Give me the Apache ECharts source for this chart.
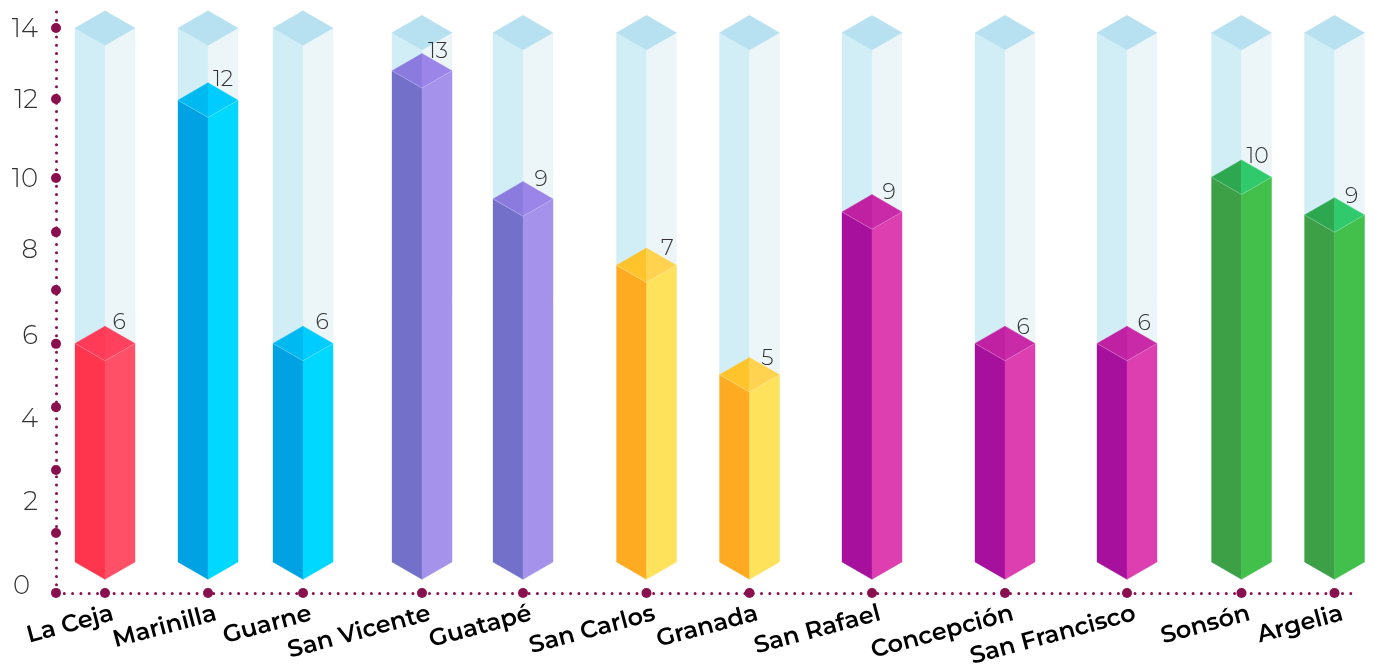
<!DOCTYPE html>
<html><head><meta charset="utf-8">
<style>html,body{margin:0;padding:0;background:#fff}#c{width:1374px;height:670px}</style>
<script src="https://cdn.jsdelivr.net/npm/echarts@6/dist/echarts.min.js"></script>
</head><body><div id="c"></div>
<script>
const categories = ['La Ceja','Marinilla','Guarne','San Vicente','Guatapé','San Carlos','Granada','San Rafael','Concepción','San Francisco','Sonsón','Argelia'];
const values = [6,12,6,13,9,7,5,9,6,6,10,9];
const barHeights = [5.73,12.11,5.73,12.88,9.52,7.78,4.91,9.18,5.73,5.73,10.09,9.1];
const trackHeights = [14,14,14,13.88,13.88,13.88,13.88,13.88,13.88,13.88,13.88,13.88];
const xSlots = [49,152,247,366,467,590.5,693.5,816,949,1071,1185.5,1278.5];
const paletteIndex = [0,1,1,2,2,3,3,4,4,4,5,5];
const yTickLabels = ['0','2','4','6','8','10','12','14'];
const yTickPlaces = [-0.63,1.57,3.75,5.92,8.18,10.04,12.11,13.97];
const yDots = [-0.81,0.76,2.41,4.06,5.72,7.13,8.65,10.07,12.14,14];
const labelDx = [14,15,19,16,18,21,18,17,18,17,16,17];
const labelDy = [-21,-21,-21,-19,-19,-17,-16,-19,-16,-20,-21,-18];

const palette = [
  {l:'#ff344d',r:'#ff5068',tl:'#ff3b58',tr:'#ff415e'},
  {l:'#00a2e4',r:'#00d8ff',tl:'#00b9f1',tr:'#00ccff'},
  {l:'#7370c9',r:'#a593eb',tl:'#8b7bdf',tr:'#9b85e8'},
  {l:'#ffab21',r:'#ffe25c',tl:'#ffc42b',tr:'#ffd34f'},
  {l:'#a6109d',r:'#dd3eb0',tl:'#c021a2',tr:'#c92aa8'},
  {l:'#3da047',r:'#43c04b',tl:'#2da850',tr:'#30c96b'}
];
const track = {l:'#d1edf6',r:'#ecf6f9',t:'#b7e1f1'};
const maroon = '#8a0f4f';
const X_MIN = 0, X_MAX = 1296, Y_MIN = -0.813, Y_MAX = 14.5;
const labelFont = 'Montserrat, Inter, "Open Sans", sans-serif';

function poly(points, fill){
  return {type:'polygon', shape:{points}, style:{fill, stroke:fill, lineWidth:0.4}, silent:true};
}
function renderBar(params, api){
  const i = params.dataIndex;
  const slot = api.value(0), h = api.value(1), tr = api.value(2), label = api.value(3), c = palette[api.value(4)];
  const hw = api.size([60,0])[0]/2, dy = hw*0.577;
  const cx = api.coord([slot,0])[0];
  const baseY = api.coord([slot,0])[1];
  const topY = api.coord([slot,h])[1];
  const trackY = api.coord([slot,tr])[1];
  const L = cx-hw, R = cx+hw;
  const kids = [
    poly([[L,trackY],[cx,trackY+dy],[cx,baseY+dy],[L,baseY]], track.l),
    poly([[cx,trackY+dy],[R,trackY],[R,baseY],[cx,baseY+dy]], track.r),
    poly([[L,trackY],[cx,trackY-dy],[R,trackY],[cx,trackY+dy]], track.t),
    poly([[L,topY],[cx,topY+dy],[cx,baseY+dy],[L,baseY]], c.l),
    poly([[cx,topY+dy],[R,topY],[R,baseY],[cx,baseY+dy]], c.r),
    poly([[L,topY],[cx,topY-dy],[cx,topY+dy]], c.tl),
    poly([[cx,topY-dy],[R,topY],[cx,topY+dy]], c.tr),
    {type:'polyline', shape:{points:[[L,topY],[cx,topY+dy],[R,topY]]},
     style:{fill:null, stroke:'rgba(255,255,255,0.25)', lineWidth:1}, silent:true},
    {type:'line', shape:{x1:L-0.5,y1:topY,x2:L-0.5,y2:baseY}, style:{stroke:'rgba(255,255,255,0.3)',lineWidth:1}, silent:true},
    {type:'text', x:cx+labelDx[i], y:topY+labelDy[i], silent:true,
     style:{text:String(label), fill:'#333', font:'300 22px '+labelFont, textAlign:'center', textVerticalAlign:'middle'}}
  ];
  return {type:'group', children:kids};
}

const chart = echarts.init(document.getElementById('c'), null, {renderer:'canvas'});
const dotLine = {color:maroon, width:3, type:[0,8.3], cap:'round'};
const dotStyle = {color:maroon, opacity:1};
chart.setOption({
  animation:false,
  grid:{left:56,right:22,top:9,bottom:77,containLabel:false},
  xAxis:[
    {type:'value',min:X_MIN,max:X_MAX,splitLine:{show:false},axisTick:{show:false},axisLabel:{show:false},
     axisLine:{show:true,onZero:false,lineStyle:dotLine}},
    {type:'value',position:'bottom',min:X_MIN-8,max:X_MAX-8,splitLine:{show:false},axisTick:{show:false},axisLine:{show:false},
     axisLabel:{show:true,customValues:xSlots,rotate:15,margin:20,hideOverlap:false,
       color:'#000',fontFamily:labelFont,fontSize:24,fontWeight:600,
       formatter:v=>categories[xSlots.indexOf(v)]}}
  ],
  yAxis:{type:'value',min:Y_MIN,max:Y_MAX,splitLine:{show:false},axisTick:{show:false},
    axisLine:{show:true,onZero:false,lineStyle:dotLine},
    axisLabel:{show:true,customValues:yTickPlaces,margin:18,hideOverlap:false,
      color:'#333',fontFamily:labelFont,fontSize:26,fontWeight:300,
      formatter:v=>{const t=yTickLabels[yTickPlaces.indexOf(v)];return t==='0'?'{z|'+t+'}':t;},
      rich:{z:{padding:[0,8,0,0],color:'#333',fontFamily:labelFont,fontSize:26,fontWeight:300}}}},
  series:[
    {type:'custom',xAxisIndex:0,clip:false,silent:true,renderItem:renderBar,
     data:categories.map((n,i)=>({name:n,value:[xSlots[i],barHeights[i],trackHeights[i],values[i],paletteIndex[i]]}))},
    {type:'scatter',xAxisIndex:0,clip:false,silent:true,symbolSize:10,itemStyle:dotStyle,
     data:yDots.map(v=>[X_MIN,v])},
    {type:'scatter',xAxisIndex:0,clip:false,silent:true,symbolSize:10,itemStyle:dotStyle,
     data:xSlots.map(v=>[v,Y_MIN])}
  ]
});
</script></body></html>
